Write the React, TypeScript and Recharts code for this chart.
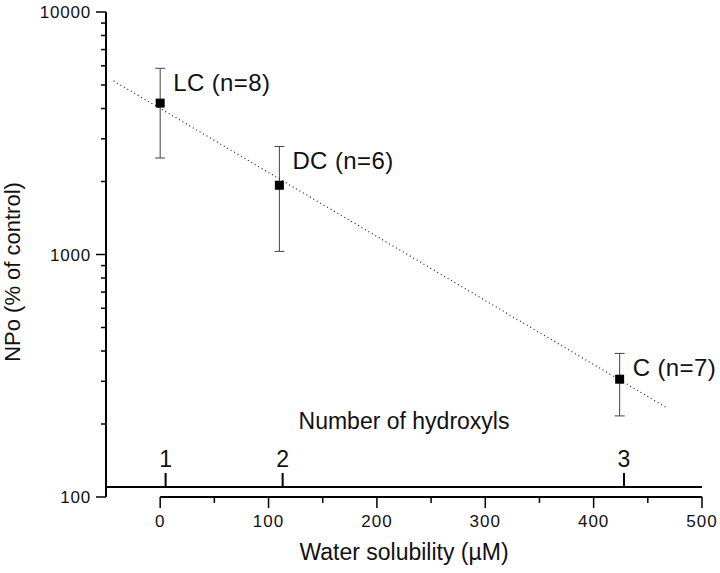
import {
  ScatterChart,
  Scatter,
  XAxis,
  YAxis,
  ErrorBar,
  ReferenceLine,
  Label,
} from "recharts";

// measured points (water solubility in uM vs NPo % of control)
const solubility = [0, 110, 424];
const npo = [4210, 1930, 306];
const npoLow = [2500, 1030, 216];
const npoHigh = [5860, 2790, 391];
const compoundLabels = ["LC (n=8)", "DC (n=6)", "C (n=7)"];

// regression line end points
const fitX = [-43, 467];
const fitY = [5200, 234];

// secondary "number of hydroxyls" scale
const hydroxylLabels = ["1", "2", "3"];
const hydroxylSolubility = [5, 113, 428];
const hydroxylLevel = 110;

const xTicks = [0, 50, 100, 150, 200, 250, 300, 350, 400, 450, 500];
const xMajor = [0, 100, 200, 300, 400, 500];
const yTicks = [
  100, 200, 300, 400, 500, 600, 700, 800, 900,
  1000, 2000, 3000, 4000, 5000, 6000, 7000, 8000, 9000, 10000,
];
const yMajor = [100, 1000, 10000];

const font = '"Liberation Sans", Arial, sans-serif';

const points = solubility.map((x, i) => ({
  x,
  y: npo[i],
  err: [npo[i] - npoLow[i], npoHigh[i] - npo[i]],
}));
const labelPoints = solubility.map((x, i) => ({ x, y: npoHigh[i], name: compoundLabels[i] }));
const fitLine = fitX.map((x, i) => ({ x, y: fitY[i] }));
const hydroxyls = hydroxylSolubility.map((x, i) => ({ x, y: hydroxylLevel, name: hydroxylLabels[i] }));

function YTick({ x, y, payload }: any) {
  const major = yMajor.includes(payload.value);
  return (
    <g>
      <line x1={x} x2={x - (major ? 10 : 5)} y1={y} y2={y} stroke="#000" strokeWidth={1.5} />
      {major && (
        <text x={x - 15} y={y + 6} textAnchor="end" fontSize={17} letterSpacing={0.8} fontFamily={font} fill="#111">
          {payload.value}
        </text>
      )}
    </g>
  );
}

function XTick({ x, y, payload }: any) {
  const major = xMajor.includes(payload.value);
  return (
    <g>
      <line x1={x} x2={x} y1={y} y2={y + (major ? 11 : 6)} stroke="#000" strokeWidth={1.5} />
      {major && (
        <text x={x} y={y + 30} textAnchor="middle" fontSize={17} letterSpacing={1} fontFamily={font} fill="#111">
          {payload.value}
        </text>
      )}
    </g>
  );
}

function Square({ cx, cy }: any) {
  return <rect x={cx - 4.5} y={cy - 4.5} width={9} height={9} fill="#000" />;
}

function PointLabel({ cx, cy, payload }: any) {
  return (
    <text x={cx + 13} y={cy + 23} fontSize={24} letterSpacing={0.4} fontFamily={font} fill="#111">
      {payload.name}
    </text>
  );
}

function HydroxylTick({ cx, cy, payload }: any) {
  return (
    <g>
      <line x1={cx} x2={cx} y1={cy} y2={cy - 14} stroke="#000" strokeWidth={2} />
      <text x={cx} y={cy - 20} textAnchor="middle" fontSize={23} fontFamily={font} fill="#111">
        {payload.name}
      </text>
    </g>
  );
}

export default function App() {
  return (
    <div style={{ position: "absolute", left: 0, top: 0, width: 720, height: 573, background: "#fff" }}>
      <ScatterChart width={720} height={573} margin={{ top: 12, right: 18, bottom: 0, left: 0 }}>
        <XAxis
          type="number"
          dataKey="x"
          domain={[-50, 500]}
          ticks={xTicks}
          interval={0}
          axisLine={false}
          tickLine={false}
          tickSize={0}
          tickMargin={0}
          height={76}
          tick={<XTick />}
        >
          <Label
            content={({ viewBox }: any) => (
              <text
                x={viewBox.x + viewBox.width / 2}
                y={560}
                textAnchor="middle"
                fontSize={23}
                fontFamily={font}
                fill="#111"
              >
                Water solubility (µM)
              </text>
            )}
          />
        </XAxis>
        <YAxis
          type="number"
          dataKey="y"
          scale="log"
          domain={[100, 10000]}
          ticks={yTicks}
          interval={0}
          width={106}
          axisLine={{ stroke: "#000", strokeWidth: 2 }}
          tickLine={false}
          tickSize={0}
          tickMargin={0}
          tick={<YTick />}
        >
          <Label
            content={() => (
              <text
                x={20}
                y={272}
                transform="rotate(-90 20 272)"
                textAnchor="middle"
                fontSize={22}
                fontFamily={font}
                fill="#111"
              >
                NPo (% of control)
              </text>
            )}
          />
        </YAxis>
        <ReferenceLine
          y={hydroxylLevel}
          stroke="#000"
          strokeWidth={2}
          label={({ viewBox }: any) => (
            <text
              x={viewBox.x + viewBox.width / 2}
              y={viewBox.y - 58}
              textAnchor="middle"
              fontSize={23}
              fontFamily={font}
              fill="#111"
            >
              Number of hydroxyls
            </text>
          )}
        />
        <ReferenceLine
          segment={[
            { x: 0, y: 100 },
            { x: 500, y: 100 },
          ]}
          stroke="#000"
          strokeWidth={2}
        />
        <Scatter
          data={fitLine}
          line={{ stroke: "#222", strokeWidth: 1.2, strokeDasharray: "1 3" }}
          shape={() => <g />}
          isAnimationActive={false}
        />
        <Scatter data={points} shape={<Square />} isAnimationActive={false}>
          <ErrorBar dataKey="err" direction="y" width={5} stroke="#444" strokeWidth={1} />
        </Scatter>
        <Scatter data={labelPoints} shape={<PointLabel />} isAnimationActive={false} />
        <Scatter data={hydroxyls} shape={<HydroxylTick />} isAnimationActive={false} />
      </ScatterChart>
    </div>
  );
}
